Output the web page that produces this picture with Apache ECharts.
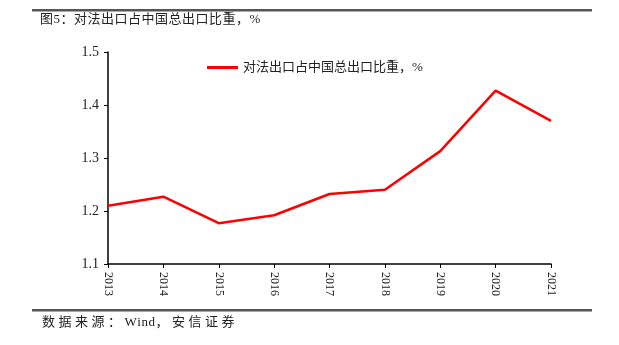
<!DOCTYPE html>
<html>
<head>
<meta charset="utf-8">
<script src="https://cdn.jsdelivr.net/npm/echarts@6/dist/echarts.min.js"></script>
<style>
  html, body { margin: 0; padding: 0; background: #fff; }
  #main { width: 619px; height: 345px; }
</style>
</head>
<body>
<div id="main"></div>
<script>
var years = ['2013', '2014', '2015', '2016', '2017', '2018', '2019', '2020', '2021'];
var shareFrance = [1.210, 1.227, 1.177, 1.192, 1.232, 1.240, 1.313, 1.427, 1.370];
var seriesName = '对法出口占中国总出口比重，%';
var titleText = '图5：对法出口占中国总出口比重，%';
var sourceText = '数据来源：Wind，安信证券';

var serif = '"Times New Roman", "Liberation Serif", "Noto Sans CJK SC", serif';

// draw a line of text with extra spacing after CJK chars, char by char
var measureCtx = document.createElement('canvas').getContext('2d');
function spaced(str, x, y, font, ls) {
    measureCtx.font = font;
    var out = [];
    for (var i = 0; i < str.length; i++) {
        var ch = str[i];
        out.push({ type: 'text', x: x, y: y,
            style: { text: ch, font: font, fill: '#222', verticalAlign: 'middle' } });
        x += measureCtx.measureText(ch).width + (ch.charCodeAt(0) > 255 ? ls : 0.5);
    }
    return out;
}

var myChart = echarts.init(document.getElementById('main'));
var graphics = [
    { type: 'rect', shape: { x: 32, y: 9, width: 560, height: 2.5 }, style: { fill: '#555' } },
    { type: 'rect', shape: { x: 32, y: 309, width: 560, height: 2.5 }, style: { fill: '#555' } }
];
graphics = graphics.concat(spaced(titleText, 40, 20, '13px ' + serif, 0.5));
graphics = graphics.concat(spaced(sourceText, 42, 323, '13px ' + serif, 3.5));

var option = {
    animation: false,
    graphic: graphics,
    legend: {
        left: 202,
        top: 56,
        icon: 'rect',
        itemWidth: 31,
        itemHeight: 3,
        itemGap: 5,
        textStyle: { fontSize: 13, color: '#222', fontFamily: serif },
        data: [seriesName]
    },
    grid: { left: 108, right: 68, top: 52, bottom: 81 },
    xAxis: {
        type: 'category',
        data: years,
        boundaryGap: false,
        axisLine: { lineStyle: { color: '#000', width: 1.5 } },
        axisTick: { show: true, alignWithLabel: true, length: 4, lineStyle: { color: '#000' } },
        axisLabel: { rotate: -90, margin: 8, fontSize: 12, color: '#222', fontFamily: serif, interval: 0 }
    },
    yAxis: {
        type: 'value',
        min: 1.1,
        max: 1.5,
        interval: 0.1,
        axisLine: { show: true, lineStyle: { color: '#000', width: 1.5 } },
        axisTick: { show: true, length: 4, lineStyle: { color: '#000' } },
        splitLine: { show: false },
        axisLabel: { margin: 9, fontSize: 14, color: '#222', fontFamily: serif,
            formatter: function (v) { return v.toFixed(1); } }
    },
    series: [
        {
            name: seriesName,
            type: 'line',
            data: shareFrance,
            symbol: 'none',
            lineStyle: { color: '#ff0000', width: 2.5 },
            itemStyle: { color: '#ff0000' }
        }
    ]
};
myChart.setOption(option);
</script>
</body>
</html>
